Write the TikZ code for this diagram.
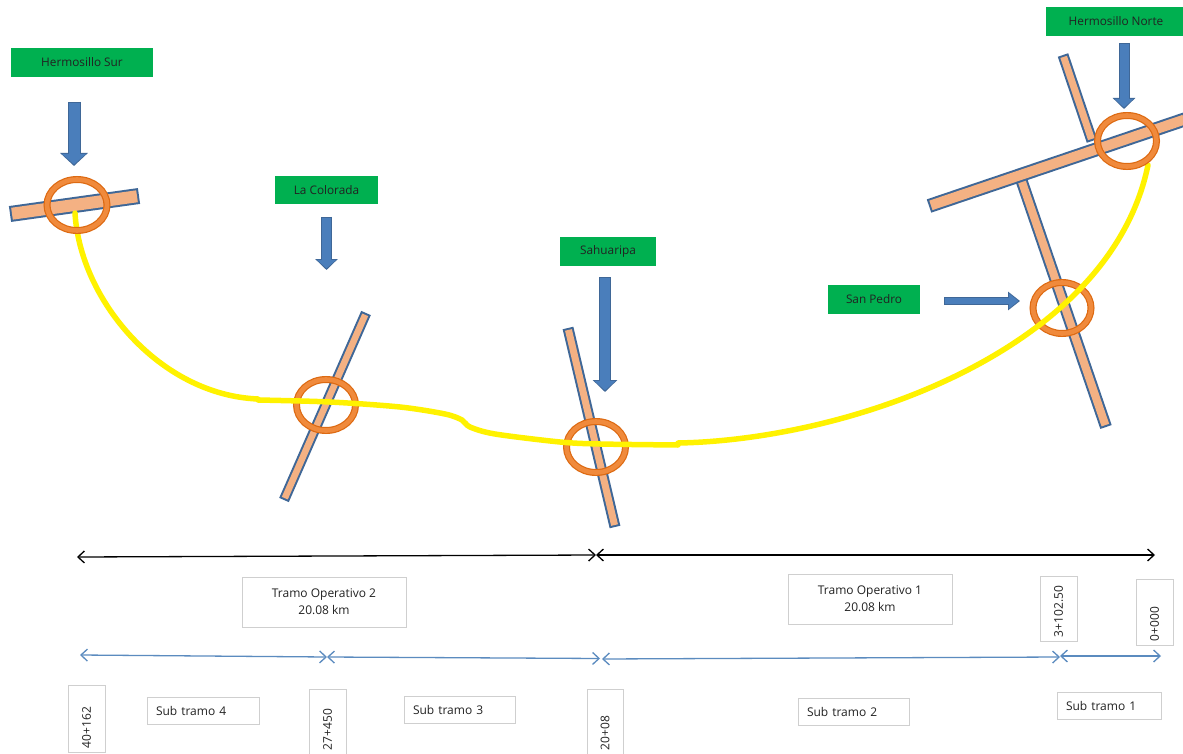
\documentclass[tikz,border=0pt]{standalone}
\usepackage{fontspec}
\setmainfont{Open Sans}
\usetikzlibrary{arrows.meta,shapes.geometric}
\definecolor{lblgreen}{HTML}{00B050}
\definecolor{roadfill}{HTML}{F4B183}
\definecolor{roadedge}{HTML}{3F6797}
\definecolor{ringfill}{HTML}{F08A3C}
\definecolor{ringedge}{HTML}{DD6A12}
\definecolor{arrowfill}{HTML}{4A7EBB}
\definecolor{arrowedge}{HTML}{3F6797}
\definecolor{boxedge}{HTML}{CFCFCF}
\definecolor{subline}{HTML}{5B8BBF}
\definecolor{txt}{HTML}{222222}
\tikzset{
  lbl/.style={fill=lblgreen,draw=none,inner sep=0pt,outer sep=0pt,text=txt,font=\fontsize{11.8}{13}\selectfont},
  infobox/.style={fill=white,draw=boxedge,line width=0.9pt,inner sep=0pt,outer sep=0pt,text=txt,font=\fontsize{12}{17}\selectfont},
  ring/.style={ellipse,draw=ringedge,double=ringfill,line width=1.2pt,double distance=4.6pt,inner sep=0pt,outer sep=0pt},
  hw/.style={yellow,line width=5.5pt,line cap=round,line join=round},
  spanblack/.style={black,line width=1.3pt,{Straight Barb[length=6.5pt,width=12pt]}-{Straight Barb[length=6.5pt,width=12pt]}},
  spanblue/.style={subline,line width=1.3pt,{Straight Barb[length=6.5pt,width=12pt]}-{Straight Barb[length=6.5pt,width=12pt]}},
}
\newcommand{\roadbar}[3]{% a, b, width
  \draw[roadedge,line width=#3pt] (#1)--(#2);
  \draw[roadfill,line width=#3pt-4pt,shorten >=2pt,shorten <=2pt] (#1)--(#2);
}
\newcommand{\blockarrow}[5]{% from,to,shaft,headw,headl
  \draw[arrowedge,line width=#3pt,-{Triangle[length=#5pt,width=#4pt]}] (#1)--(#2);
  \draw[arrowfill,line width=#3pt-2pt,shorten >=1.6pt,shorten <=1pt,-{Triangle[length=#5pt-2.5pt,width=#4pt-3.4pt]}] (#1)--(#2);
}
\newcommand{\markbox}[6]{% name,cx,cy,length,height,text  (rotated)
  \node[infobox,rotate=90,minimum width=#4pt,minimum height=#5pt,text width=#4pt-8pt,align=left] (#1) at (#2,#3) {#6};
}
\begin{document}
\begin{tikzpicture}[x=1pt,y=-1pt]
\useasboundingbox[fill=white] (0,0) rectangle (1183,754);
% roads
\coordinate (r1a) at (10,214); \coordinate (r1b) at (139,196);
\coordinate (r2a) at (366,313); \coordinate (r2b) at (284,500);
\coordinate (r3a) at (568,328); \coordinate (r3b) at (615,527);
\coordinate (r4a) at (1021,179); \coordinate (r4b) at (1106,427);
\coordinate (r5a) at (1063,55); \coordinate (r5b) at (1092,141);
\coordinate (r6a) at (929,206); \coordinate (r6b) at (1186,119);
\roadbar{r1a}{r1b}{16}
\roadbar{r2a}{r2b}{10.5}
\roadbar{r3a}{r3b}{11}
\roadbar{r4a}{r4b}{12}
\roadbar{r5a}{r5b}{11}
\roadbar{r6a}{r6b}{14}
% rings under the highway
\node[ring,minimum width=59pt,minimum height=51pt] (cB) at (326,405) {};
\node[ring,minimum width=59pt,minimum height=51pt] (cC) at (596,447) {};
\node[ring,minimum width=58pt,minimum height=51pt] (cD) at (1062,308) {};
% highway
\draw[hw] (75,213) .. controls (80,300) and (160,395) .. (258,399);
\draw[hw] plot[smooth,tension=.5] coordinates {(258,400) (330,402) (400,407) (445,414) (462,420) (470,427) (495,434) (560,442) (600,444) (678,445)};
\draw[hw] (678,443) .. controls (850,440) and (1110,350) .. (1148,165);
% rings over the highway
\node[ring,minimum width=60pt,minimum height=51pt] (cA) at (77,205) {};
\node[ring,minimum width=59pt,minimum height=51pt] (cE) at (1127,141) {};
% labels
\node[lbl,minimum width=142pt,minimum height=29pt] (hs) at (82,62.5) {Hermosillo Sur};
\node[lbl,minimum width=103pt,minimum height=28pt] (lc) at (326.5,190) {La Colorada};
\node[lbl,minimum width=96pt,minimum height=29pt] (sa) at (608,251.5) {Sahuaripa};
\node[lbl,minimum width=92pt,minimum height=29pt] (sp) at (874,299.5) {San Pedro};
\node[lbl,minimum width=137pt,minimum height=29pt] (hn) at (1114.5,21.5) {\hspace*{3pt}Hermosillo Norte};
% block arrows
\coordinate (a1a) at (74,102); \coordinate (a1b) at (74,166);
\coordinate (a2a) at (326.5,217); \coordinate (a2b) at (326.5,270);
\coordinate (a3a) at (605,277); \coordinate (a3b) at (605,392);
\coordinate (a4a) at (944,301); \coordinate (a4b) at (1020,301);
\coordinate (a5a) at (1124,43); \coordinate (a5b) at (1124,109);
\blockarrow{a1a}{a1b}{13}{27}{13}
\blockarrow{a2a}{a2b}{11}{22}{11}
\blockarrow{a3a}{a3b}{12}{24}{12}
\blockarrow{a4a}{a4b}{8}{18}{12}
\blockarrow{a5a}{a5b}{11}{22}{11}
% span lines
\coordinate (k0) at (77,557); \coordinate (k1a) at (596,555); \coordinate (k1b) at (596,555); \coordinate (k2) at (1155,555);
\draw[spanblack] (k0)--(k1a);
\draw[spanblack] (k1b)--(k2);
\coordinate (s0) at (80,655); \coordinate (s1) at (327,657); \coordinate (s2) at (600,658.5);
\coordinate (s3) at (602,659); \coordinate (s4) at (1060,657); \coordinate (s5) at (1060,656); \coordinate (s6) at (1161,656);
\draw[spanblue] (s0)--(s1);
\draw[spanblue] (s1)--(s2);
\draw[spanblue] (s3)--(s4);
\draw[spanblue] (s5)--(s6);
% info boxes
\node[infobox,minimum width=164pt,minimum height=50pt,align=center] (t2) at (324,602) {Tramo Operativo 2\\20.08 km};
\node[infobox,minimum width=164pt,minimum height=50pt,align=center] (t1) at (870,599) {Tramo Operativo 1\\20.08 km};
\markbox{m1}{1058.5}{608.5}{65}{37}{3+102.50}
\markbox{m0}{1154.5}{612}{66}{37}{0+000}
\markbox{m4}{86.5}{718.5}{67}{37}{40+162}
\markbox{m3}{327.5}{721.5}{65}{37}{27+450}
\markbox{m2}{605}{721.5}{65}{36}{20+08}
\node[infobox,minimum width=112pt,minimum height=27pt,text width=94pt,align=left] (st4) at (203,710.5) {Sub tramo 4};
\node[infobox,minimum width=111pt,minimum height=27pt,text width=93pt,align=left] (st3) at (459.5,709.5) {Sub tramo 3};
\node[infobox,minimum width=111pt,minimum height=27pt,text width=93pt,align=left] (st2) at (853.5,711.5) {Sub tramo 2};
\node[infobox,minimum width=104pt,minimum height=27pt,text width=86pt,align=left] (st1) at (1109,705.5) {Sub tramo 1};
\end{tikzpicture}
\end{document}
